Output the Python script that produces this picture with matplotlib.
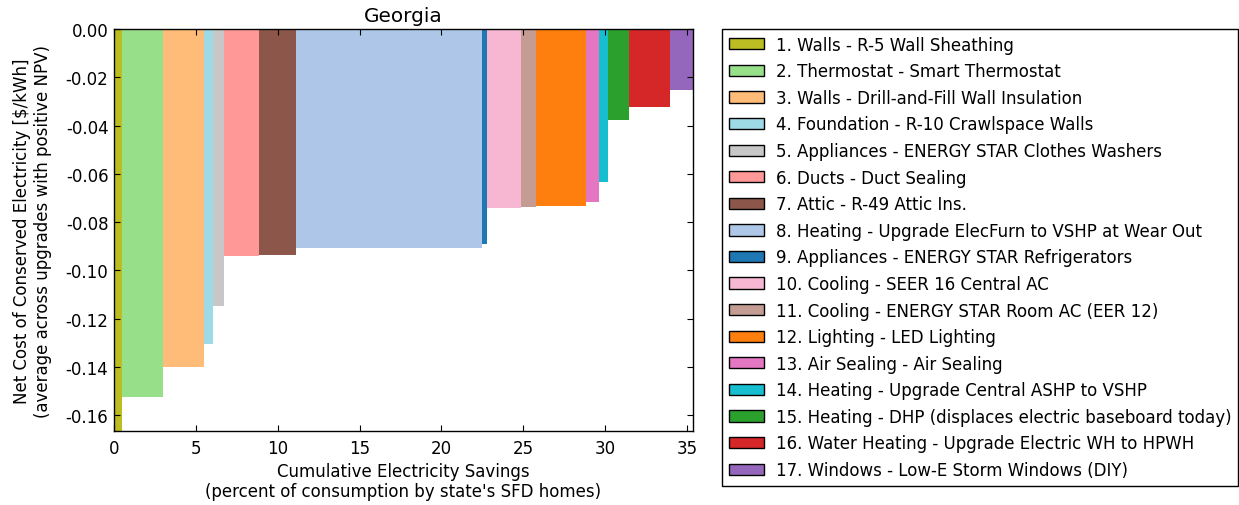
import numpy as np
import matplotlib
matplotlib.use("Agg")
import matplotlib.pyplot as plt
from matplotlib.patches import Patch

# upgrade names, savings (% of consumption) and net cost of conserved electricity ($/kWh)
upgrades = [
    "1. Walls - R-5 Wall Sheathing",
    "2. Thermostat - Smart Thermostat",
    "3. Walls - Drill-and-Fill Wall Insulation",
    "4. Foundation - R-10 Crawlspace Walls",
    "5. Appliances - ENERGY STAR Clothes Washers",
    "6. Ducts - Duct Sealing",
    "7. Attic - R-49 Attic Ins.",
    "8. Heating - Upgrade ElecFurn to VSHP at Wear Out",
    "9. Appliances - ENERGY STAR Refrigerators",
    "10. Cooling - SEER 16 Central AC",
    "11. Cooling - ENERGY STAR Room AC (EER 12)",
    "12. Lighting - LED Lighting",
    "13. Air Sealing - Air Sealing",
    "14. Heating - Upgrade Central ASHP to VSHP",
    "15. Heating - DHP (displaces electric baseboard today)",
    "16. Water Heating - Upgrade Electric WH to HPWH",
    "17. Windows - Low-E Storm Windows (DIY)",
]
savings = [0.49, 2.50, 2.53, 0.55, 0.67, 2.10, 2.26, 11.37, 0.31,
           2.10, 0.92, 3.02, 0.81, 0.55, 1.29, 2.47, 1.43]
cost = [-0.1665, -0.1523, -0.1398, -0.1306, -0.1147, -0.0939, -0.0934, -0.0906, -0.0890,
        -0.0743, -0.0739, -0.0734, -0.0718, -0.0635, -0.0376, -0.0322, -0.0254]
colors = ['#bcbd22', '#98df8a', '#ffbb78', '#9edae5', '#c7c7c7', '#ff9896', '#8c564b',
          '#aec7e8', '#1f77b4', '#f7b6d2', '#c49c94', '#ff7f0e', '#e377c2', '#17becf',
          '#2ca02c', '#d62728', '#9467bd']

plt.rcParams['font.family'] = 'DejaVu Sans'
plt.rcParams['font.size'] = 12
plt.rcParams['xtick.direction'] = 'in'
plt.rcParams['ytick.direction'] = 'in'
plt.rcParams['xtick.top'] = True
plt.rcParams['ytick.right'] = True
plt.rcParams['xtick.major.size'] = 4
plt.rcParams['ytick.major.size'] = 4

fig = plt.figure(figsize=(12.39, 5.06), dpi=100)
ax = fig.add_axes([0.092, 0.1462, 0.4673, 0.7945])

left = np.concatenate([[0], np.cumsum(savings)[:-1]])
ax.bar(left, cost, width=savings, align='edge', color=colors, linewidth=0)

ax.set_xlim(0, np.sum(savings))
ax.set_ylim(min(cost), 0)
ax.set_yticks(np.arange(0, -0.17, -0.02))
ax.yaxis.set_major_formatter(matplotlib.ticker.FormatStrFormatter('%.2f'))
for s in ax.spines.values():
    s.set_linewidth(1.0)
ax.tick_params(labelsize=12)
ax.tick_params(axis='x', pad=6)
ax.tick_params(axis='y', pad=4)

ax.set_title("Georgia", fontsize=14.4, pad=6)
ax.set_xlabel("Cumulative Electricity Savings\n(percent of consumption by state's SFD homes)",
              fontsize=12, labelpad=3)
ax.set_ylabel("Net Cost of Conserved Electricity [$/kWh]\n(average across upgrades with positive NPV)",
              fontsize=12, labelpad=10)

handles = [Patch(facecolor=c, edgecolor='black', linewidth=1) for c in colors]
leg = ax.legend(handles, upgrades, loc='upper left', bbox_to_anchor=(1.05, 1.0),
                borderaxespad=0, fontsize=12, fancybox=False, framealpha=1,
                edgecolor='black', handlelength=2.1, handleheight=0.66,
                labelspacing=0.515, handletextpad=0.75, borderpad=0.4)
leg.get_frame().set_linewidth(1.0)

fig.savefig("out.png", dpi=100, facecolor='white')
